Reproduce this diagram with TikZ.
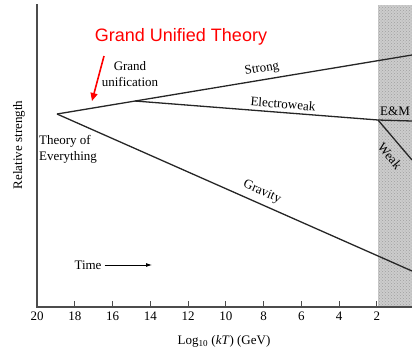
\documentclass[tikz,border=0pt]{standalone}
\usepackage{fontspec}
\setmainfont{Liberation Serif}
\newfontfamily\arialfont{Liberation Sans}
\usetikzlibrary{positioning, arrows.meta, calc, patterns}

\begin{document}
\begin{tikzpicture}[x=1pt, y=-1pt,
    axis line/.style={line width=1.3pt, draw=gray!60!black},
    force line/.style={line width=1.3pt, draw=black!85},
    lbl/.style={font=\fontsize{13}{16}\selectfont, inner sep=1pt},
    red lbl/.style={font=\arialfont\fontsize{18}{20}\selectfont, text=red, inner sep=0pt},
    tick lbl/.style={font=\fontsize{13}{15}\selectfont, below, inner sep=2pt}
]
\useasboundingbox (0,0) rectangle (412,354);

% ------------------------------------------------------------------------------
% 1. ZONA SOMBREADA
% ------------------------------------------------------------------------------
\fill[gray!40] (378,5) rectangle (412,307);
\fill[pattern=crosshatch dots, pattern color=gray!75] (378,5) rectangle (412,307);

% ------------------------------------------------------------------------------
% 2. EJES
% ------------------------------------------------------------------------------
\coordinate (origin) at (37,307);
\coordinate (ytop) at (37,4);
\coordinate (xend) at (412,307);
\draw[axis line] (ytop) -- (origin) -- (xend);

\foreach \v in {18,16,...,2} {
    \draw[line width=0.8pt, gray!60!black] ($(origin)+({(20-\v)*18.875},0)$) -- ++(0,-6);
}
\foreach \v in {20,18,...,2} {
    \node[tick lbl] (t\v) at ($(origin)+({(20-\v)*18.875},3)$) {\v};
}

\node[lbl, rotate=90] (ylabel) at (19,145) {Relative strength};
\node[lbl] (xlabel) at (224,341) {Log\textsubscript{10} (\textit{kT}) (GeV)};

% ------------------------------------------------------------------------------
% 3. FUERZAS
% ------------------------------------------------------------------------------
\coordinate (toe) at (57,114);
\coordinate (gu) at (135,101);
\coordinate (ewsplit) at (378,120);
\coordinate (strongend) at (412,55);
\coordinate (emend) at (412,121);
\coordinate (weakend) at (412,160);
\coordinate (gravend) at (412,271);

\draw[force line] (toe) -- (strongend);
\draw[force line] (gu) -- (ewsplit) -- (emend);
\draw[force line] (ewsplit) -- (weakend);
\draw[force line] (toe) -- (gravend);

\node[lbl, rotate=9.6] (strong) at (262,69) {Strong};
\node[lbl, rotate=-4.5] (ew) at (283,104) {Electroweak};
\node[lbl, anchor=west] (em) at (379,111) {E\&M};
\node[lbl, rotate=-50, inner sep=0pt] (weak) at (390,156) {Weak};
\node[lbl, rotate=-24] (grav) at (262,192) {Gravity};

\node[lbl, align=center] (gulbl) at (130,74) {Grand\\unification};
\node[lbl, align=left, anchor=north west] (toelbl) at (38,134) {Theory of\\Everything};

% ------------------------------------------------------------------------------
% 4. TIEMPO Y ANOTACION
% ------------------------------------------------------------------------------
\node[lbl] (time) at (88,265) {Time};
\coordinate (timeend) at (152,265);
\draw[-{Latex[length=6pt, width=4pt]}, line width=0.8pt] (time.east) ++(2,0) -- (timeend);

\node[red lbl] (gut) at (181,37) {Grand Unified Theory};
\coordinate (gutip) at (92,101);
\draw[-{Triangle[length=8pt, width=7pt]}, line width=1.6pt, red] (104,56) -- (gutip);

\end{tikzpicture}
\end{document}
